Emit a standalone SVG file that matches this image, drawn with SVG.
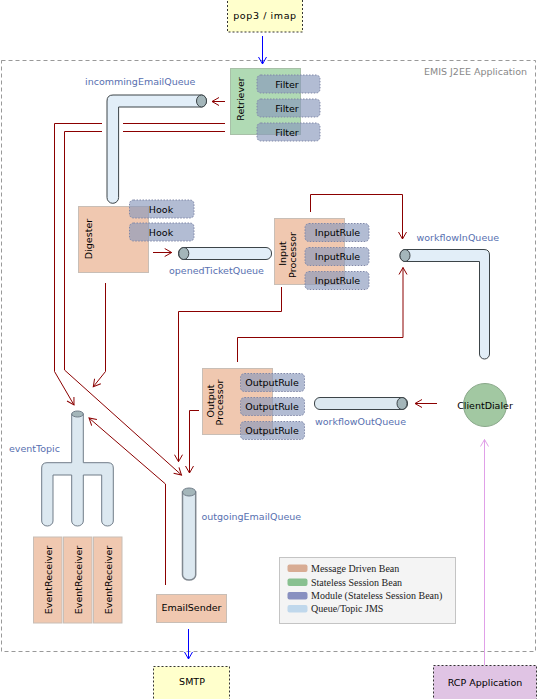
<svg xmlns="http://www.w3.org/2000/svg" width="537" height="699" viewBox="0 0 537 699">
<style>
text{font-family:"DejaVu Sans","Liberation Sans",sans-serif;font-size:9.5px;fill:#000}
.lbl{fill:#5870b0}
.mdb{fill:#f0c8b0;stroke:#c8beb6;stroke-width:1}
.ssb{fill:#b0dab4;stroke:#a8c0a8;stroke-width:1}
.mod{fill:#8898bc;fill-opacity:.65;stroke:#8088a8;stroke-width:1;stroke-dasharray:1.5,1.5}
.pipe{fill:#e2eef8;stroke:#3c4448;stroke-width:1}
.pipe2{fill:#dce8f0;stroke:#707c88;stroke-width:1}
.cap{fill:#a4b6ba;stroke:#3c4448;stroke-width:1}
.cap2{fill:#a4b6ba;stroke:#707c88;stroke-width:1}
.ext{stroke:#333;stroke-width:1;stroke-dasharray:2,2}
.red{fill:none;stroke:#8b0000;stroke-width:1;marker-end:url(#ar)}
.blue{fill:none;stroke:#0000ff;stroke-width:1;marker-end:url(#ab)}
.pink{fill:none;stroke:#e0a0e8;stroke-width:1;marker-end:url(#ap)}
.leg{font-family:"Liberation Serif",serif;font-size:10px;fill:#222}
</style>
<defs>
<marker id="ar" markerUnits="userSpaceOnUse" markerWidth="10" markerHeight="10" viewBox="-8 -5 10 10" refX="0" refY="0" orient="auto"><path d="M-7,-4 L0,0 L-7,4" fill="none" stroke="#8b0000" stroke-width="1"/></marker>
<marker id="ab" markerUnits="userSpaceOnUse" markerWidth="10" markerHeight="10" viewBox="-8 -5 10 10" refX="0" refY="0" orient="auto"><path d="M-7,-4 L0,0 L-7,4" fill="none" stroke="#0000ff" stroke-width="1"/></marker>
<marker id="ap" markerUnits="userSpaceOnUse" markerWidth="10" markerHeight="10" viewBox="-8 -5 10 10" refX="0" refY="0" orient="auto"><path d="M-7,-4 L0,0 L-7,4" fill="none" stroke="#e0a0e8" stroke-width="1"/></marker>
</defs>
<rect width="537" height="699" fill="#fff"/>

<g id="app-frame">
<rect x="1.5" y="60.5" width="534" height="591" fill="none" stroke="#999" stroke-width="1" stroke-dasharray="4,3"/>
<text x="527" y="75" text-anchor="end" style="fill:#888">EMIS J2EE Application</text>
</g>

<g id="connectors">
<path class="blue" d="M262.5,36 V64"/>
<path class="blue" d="M188.5,629 V659"/>
<path class="pink" d="M484.5,665 V439.5"/>
<path class="red" d="M225,101.5 H212"/>
<path class="red" d="M225,123.5 H123 M102,123.5 H54.5 V371.5 L74,405"/>
<path class="red" d="M225,131.5 H123 M102,131.5 H64.5 V370 L181.5,475"/>
<path class="red" d="M105.5,283 V371.5 L93.3,386.7"/>
<path class="red" d="M153,252.5 H171.7"/>
<path class="red" d="M310.5,212 V194.5 H402.5 V239"/>
<path class="red" d="M237.5,362 V337.5 H403 V267.5"/>
<path class="red" d="M281.5,287 V311.5 H178.5 V461.7"/>
<path class="red" d="M199,410.5 H189.5 V473"/>
<path class="red" d="M165.5,585 V484 L89,418"/>
<path class="red" d="M437,403.5 H415"/>
</g>

<g id="pop3">
<rect class="ext" x="227.5" y="-1" width="75" height="33" fill="#ffffcc"/>
<text x="265" y="18.5" text-anchor="middle" letter-spacing="0.6">pop3 / imap</text>
</g>

<g id="incommingEmailQueue">
<path class="pipe" d="M201.5,95 H113 Q107,95 107,101 V197.5 A5.8,5.8 0 0 0 118.6,197.5 V107 H201.5 A5,6 0 0 0 201.5,95 Z"/>
<ellipse class="cap" cx="201.5" cy="101" rx="5" ry="6"/>
<text class="lbl" x="85" y="85">incommingEmailQueue</text>
</g>

<g id="retriever">
<rect class="ssb" x="230.5" y="68.5" width="70" height="66"/>
<text transform="translate(243.5,99) rotate(-90)" text-anchor="middle">Retriever</text>
<rect class="mod" x="257" y="75" width="63" height="18" rx="4"/>
<text x="287" y="87.5" text-anchor="middle">Filter</text>
<rect class="mod" x="257" y="99" width="63" height="18" rx="4"/>
<text x="287" y="111.5" text-anchor="middle">Filter</text>
<rect class="mod" x="257" y="123" width="63" height="18" rx="4"/>
<text x="287" y="135.5" text-anchor="middle">Filter</text>
</g>

<g id="digester">
<rect class="mdb" x="78.5" y="206.5" width="70" height="66"/>
<text transform="translate(92,239) rotate(-90)" text-anchor="middle">Digester</text>
<rect class="mod" x="129.5" y="200" width="64.5" height="18" rx="4"/>
<text x="161" y="212.5" text-anchor="middle">Hook</text>
<rect class="mod" x="129.5" y="223" width="64.5" height="18" rx="4"/>
<text x="161" y="235.5" text-anchor="middle">Hook</text>
</g>

<g id="openedTicketQueue">
<rect class="pipe" x="178.5" y="247.5" width="93" height="12" rx="5.5"/>
<ellipse class="cap" cx="183.8" cy="253.5" rx="5" ry="6"/>
<text class="lbl" x="169" y="273.5">openedTicketQueue</text>
</g>

<g id="inputProcessor">
<rect class="mdb" x="274.5" y="218.5" width="70" height="66"/>
<text transform="translate(286,253.5) rotate(-90)" text-anchor="middle">Input</text>
<text transform="translate(295.5,255) rotate(-90)" text-anchor="middle">Processor</text>
<rect class="mod" x="305" y="223.5" width="64" height="18" rx="4"/>
<text x="337.5" y="236" text-anchor="middle">InputRule</text>
<rect class="mod" x="305" y="247.5" width="64" height="18" rx="4"/>
<text x="337.5" y="260" text-anchor="middle">InputRule</text>
<rect class="mod" x="305" y="271.5" width="64" height="18" rx="4"/>
<text x="337.5" y="284" text-anchor="middle">InputRule</text>
</g>

<g id="workflowInQueue">
<path class="pipe" d="M405,249.5 H484 Q489.5,249.5 489.5,255 V354 A5,5 0 0 1 479.5,354 V261.5 H405 A5,6 0 0 1 405,249.5 Z"/>
<ellipse class="cap" cx="405" cy="255.5" rx="5" ry="6"/>
<text class="lbl" x="416.5" y="241">workflowInQueue</text>
</g>

<g id="outputProcessor">
<rect class="mdb" x="202.5" y="368.5" width="70" height="66"/>
<text transform="translate(213.5,401) rotate(-90)" text-anchor="middle">Output</text>
<text transform="translate(222.5,402.5) rotate(-90)" text-anchor="middle">Processor</text>
<rect class="mod" x="240.5" y="373.5" width="64" height="18" rx="4"/>
<text x="272" y="386" text-anchor="middle">OutputRule</text>
<rect class="mod" x="240.5" y="397.5" width="64" height="18" rx="4"/>
<text x="272" y="410" text-anchor="middle">OutputRule</text>
<rect class="mod" x="240.5" y="421.5" width="64" height="18" rx="4"/>
<text x="272" y="434" text-anchor="middle">OutputRule</text>
</g>

<g id="workflowOutQueue">
<rect class="pipe2" x="314.5" y="397.5" width="93" height="12" rx="5.5" style="stroke:#3c4448"/>
<ellipse class="cap" cx="402" cy="403.5" rx="5" ry="6"/>
<text class="lbl" x="315" y="424.5">workflowOutQueue</text>
</g>

<g id="clientDialer">
<circle cx="485" cy="405" r="21.5" fill="#a2c8a2" stroke="#8aa88a" stroke-width="1"/>
<text x="485" y="409" text-anchor="middle">ClientDialer</text>
</g>

<g id="eventTopic">
<path class="pipe2" d="M71.7,414 V462.7 H47 Q41.7,462.7 41.7,468 V521 A5.65,5 0 0 0 53,521 V475 H71.7 V521 A5.8,5 0 0 0 83.3,521 V475 H101.7 V521 A5.8,5 0 0 0 113.3,521 V468 Q113.3,462.7 108,462.7 H83.3 V414 Z"/>
<ellipse class="cap2" cx="77.5" cy="414" rx="5.8" ry="3"/>
<text class="lbl" x="9" y="452">eventTopic</text>
</g>

<g id="eventReceivers">
<rect class="mdb" x="33.5" y="537" width="28.5" height="86"/>
<text transform="translate(52,580) rotate(-90)" text-anchor="middle">EventReceiver</text>
<rect class="mdb" x="63.5" y="537" width="28.5" height="86"/>
<text transform="translate(82,580) rotate(-90)" text-anchor="middle">EventReceiver</text>
<rect class="mdb" x="93.5" y="537" width="28.5" height="86"/>
<text transform="translate(112,580) rotate(-90)" text-anchor="middle">EventReceiver</text>
</g>

<g id="outgoingEmailQueue">
<path class="pipe2" d="M182.5,492 V575 A6.6,5 0 0 0 195.7,575 V492 Z" style="stroke:#808890;stroke-width:1.5"/>
<ellipse class="cap2" cx="189.1" cy="492" rx="6.6" ry="4"/>
<text class="lbl" x="201.5" y="520">outgoingEmailQueue</text>
</g>

<g id="emailSender">
<rect class="mdb" x="156.5" y="594.5" width="70" height="28"/>
<text x="191.5" y="611" text-anchor="middle">EmailSender</text>
</g>

<g id="smtp">
<rect class="ext" x="153.5" y="666.5" width="76" height="34" fill="#ffffcc"/>
<text x="192" y="684.5" text-anchor="middle">SMTP</text>
</g>

<g id="rcp">
<rect class="ext" x="433.5" y="665.5" width="103" height="35" fill="#e0c4e4"/>
<text x="485" y="686" text-anchor="middle">RCP Application</text>
</g>

<g id="legend">
<rect x="279.5" y="557.5" width="176" height="66" fill="#f4f4f4" stroke="#c4c4c4" stroke-width="1"/>
<rect x="287.5" y="564.5" width="20" height="7.5" rx="2" fill="#d8ac94"/>
<text class="leg" x="311" y="571.5">Message Driven Bean</text>
<rect x="287.5" y="578.5" width="20" height="7.5" rx="2" fill="#88c090"/>
<text class="leg" x="311" y="585.5">Stateless Session Bean</text>
<rect x="287.5" y="592" width="20" height="7.5" rx="2" fill="#8890c0"/>
<text class="leg" x="311" y="599">Module (Stateless Session Bean)</text>
<rect x="287.5" y="605" width="20" height="7.5" rx="2" fill="#c0d8ec"/>
<text class="leg" x="311" y="612">Queue/Topic JMS</text>
</g>
</svg>
